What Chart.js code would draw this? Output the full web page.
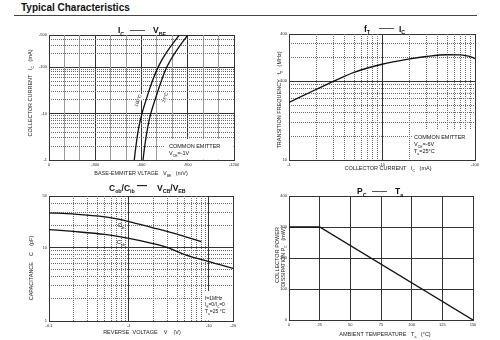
<!DOCTYPE html>
<html>
<head>
<meta charset="utf-8">
<script src="https://cdn.jsdelivr.net/npm/chart.js@4.4.1/dist/chart.umd.min.js"></script>
<style>
  body { margin: 0; background: #fff; }
  #wrap { position: relative; width: 500px; height: 340px; overflow: hidden; font-family: "Liberation Sans", Arial, sans-serif; }
  #wrap canvas { position: absolute; left: 0; top: 0; }
  #head { position: absolute; left: 21px; top: 2px; font-weight: bold; font-size: 10px; color: #111; }
  #rule { position: absolute; left: 14px; top: 15px; width: 463px; border-top: 1.5px solid #444; }
</style>
</head>
<body>
<div id="wrap">
  <div id="head">Typical Characteristics</div>
  <div id="rule"></div>
  <canvas id="c1" width="500" height="340"></canvas>
  <canvas id="c2" width="500" height="340"></canvas>
  <canvas id="c3" width="500" height="340"></canvas>
  <canvas id="c4" width="500" height="340"></canvas>
</div>
<script>
// IC - VBE (magnitudes, the sheet prints them negative)
const icPoints = [1, 2, 5, 10, 20, 50, 100, 200, 500];
const vbeHot = [553, 564, 582, 603, 630, 670, 707, 758, 845];
const vbe25 = [610, 621, 640, 660, 688, 728, 763, 815, 900];
const vbeTicks = [0, 300, 600, 900, 1200];
const icTicks = [1, 10, 100, 500];

// fT - IC
const icFt = [1, 2, 3, 5, 10, 20, 30, 50, 70, 85, 100];
const ftVals = [54, 80, 100, 130, 165, 193, 207, 218, 217, 209, 195];
const icFtTicks = [1, 10, 100];
const ftTicks = [10, 100, 400];

// Cib / Cob - reverse voltage
const vCib = [0.1, 0.2, 0.5, 1, 2, 3, 5, 8];
const cibVals = [29.5, 28.5, 26, 22.5, 18.5, 16.5, 14, 12];
const vCob = [0.1, 0.2, 0.5, 1, 2, 3, 5, 10, 20];
const cobVals = [17.5, 16.5, 15, 13.3, 11.3, 10, 8, 6.4, 5.2];
const vTicks = [0.1, 1, 10, 20];
const capTicks = [1, 10, 50];

// PC - Ta
const taVals = [0, 25, 150];
const pcVals = [300, 300, 0];
const taTicks = [0, 25, 50, 75, 100, 125, 150];
const pcTicks = [0, 100, 200, 300, 400];

const FONT = '"Liberation Sans", Arial, sans-serif';
const DARK = '#333';
const DOT = '#6a6a6a';

// minor log grid positions (2..9 of each decade) inside a range
function logMinors(min, max) {
  const out = [];
  for (let e = Math.floor(Math.log10(min)); e <= Math.ceil(Math.log10(max)); e++) {
    for (let d = 2; d <= 9; d++) {
      const v = +(d * Math.pow(10, e)).toPrecision(3);
      if (v > min && v < max) out.push(v);
    }
  }
  return out;
}

function majorAxis(type, min, max, vals, fmt, axis, size) {
  return {
    type, min, max, position: axis === 'x' ? 'bottom' : 'left',
    afterBuildTicks: s => { s.ticks = vals.map(v => ({ value: v })); },
    afterFit: s => { if (axis === 'x') s.height = size; else s.width = size; },
    ticks: { autoSkip: false, maxRotation: 0, padding: 2, color: '#222', font: { family: FONT, size: 4 }, callback: fmt },
    grid: { color: DARK, lineWidth: 1, drawTicks: false },
    border: { display: true, color: DARK, width: 1 }
  };
}

function minorAxis(type, min, max, vals, axis, color, dash) {
  const sc = {
    type, min, max, position: axis === 'x' ? 'bottom' : 'left',
    afterFit: s => { if (axis === 'x') s.height = 0; else s.width = 0; },
    ticks: { display: false },
    grid: { color, lineWidth: 1, drawTicks: false },
    border: { display: false, dash: dash || [] }
  };
  if (Array.isArray(vals)) sc.afterBuildTicks = s => { s.ticks = vals.map(v => ({ value: v })); };
  else sc.ticks.stepSize = vals;
  return sc;
}

// text with subscripts: parts are strings, or [text] for a subscript
function rich(ctx, parts, x, y, size, o = {}) {
  const b = o.bold ? 'bold ' : '';
  const sub = size * 0.62;
  const font = s => b + s + 'px ' + FONT;
  let w = 0;
  const segs = parts.map(p => {
    const isSub = Array.isArray(p);
    const t = isSub ? p[0] : p;
    ctx.font = font(isSub ? sub : size);
    const sw = ctx.measureText(t).width;
    w += sw;
    return { t, isSub, sw };
  });
  ctx.save();
  ctx.translate(x, y);
  if (o.rot) ctx.rotate(o.rot);
  let cx = o.align === 'center' ? -w / 2 : 0;
  if (o.bg) { ctx.fillStyle = '#fff'; ctx.fillRect(cx - 1, -size * 0.85, w + 2, size * 1.2); }
  ctx.fillStyle = o.color || '#111';
  ctx.textBaseline = 'alphabetic';
  segs.forEach(s => {
    ctx.font = font(s.isSub ? sub : size);
    ctx.fillText(s.t, cx, s.isSub ? size * 0.3 : 0);
    cx += s.sw;
  });
  ctx.restore();
}

function whiteBox(ctx, x0, y0, x1, y1) {
  ctx.fillStyle = '#fff';
  ctx.fillRect(x0, y0, x1 - x0, y1 - y0);
}

function makeChart(id, datasets, scales, padding, draw) {
  return new Chart(document.getElementById(id), {
    type: 'line',
    data: { datasets },
    options: {
      responsive: false,
      animation: false,
      events: [],
      layout: { padding },
      plugins: { legend: { display: false }, tooltip: { enabled: false } },
      scales
    },
    plugins: [{ id: 'txt' + id, afterDraw: c => draw(c.ctx) }]
  });
}

function curve(xs, ys, extra) {
  return Object.assign({
    data: xs.map((x, i) => ({ x, y: ys[i] })),
    borderColor: '#111', borderWidth: 1.3, pointRadius: 0,
    fill: false, cubicInterpolationMode: 'monotone'
  }, extra || {});
}

const neg = v => (v === 0 ? '0' : '-' + v);
const pos = v => '' + v;

// 1: IC - VBE
makeChart('c1', [
  curve(vbeHot, icPoints, { tension: 0.4, cubicInterpolationMode: 'default' }),
  curve(vbe25, icPoints, { tension: 0.4, cubicInterpolationMode: 'default' })
], {
  x: majorAxis('linear', 0, 1200, vbeTicks, neg, 'x', 10),
  y: majorAxis('logarithmic', 1, 500, icTicks, neg, 'y', 14),
  x2: minorAxis('linear', 0, 1200, 100, 'x', c => (c.tick && c.tick.value % 300 ? '#9a9a9a' : 'rgba(0,0,0,0)')),
  y2: minorAxis('logarithmic', 1, 500, logMinors(1, 500), 'y', DOT, [1, 1])
}, { left: 35, right: 266, top: 35, bottom: 170 }, ctx => {
  rich(ctx, ['I', ['C']], 118, 33, 8.5, { bold: true });
  rich(ctx, ['——'], 130, 31.5, 7.5, { bold: true });
  rich(ctx, ['V', ['BE']], 153, 33, 8.5, { bold: true });
  rich(ctx, ['BASE-EMMITER VLTAGE   V', ['BE'], '   (mV)'], 141, 175, 5.5, { align: 'center', color: '#222' });
  rich(ctx, ['COLLECTOR CURRENT   I', ['C'], '   (mA)'], 32, 93, 5.5, { align: 'center', rot: -Math.PI / 2, color: '#222' });
  whiteBox(ctx, 165, 139, 233.5, 159.5);
  rich(ctx, ['COMMON EMITTER'], 169, 148, 5.5);
  rich(ctx, ['V', ['CE'], '=-1V'], 169, 155, 5.5);
  rich(ctx, ['100°C'], 139.5, 101, 4.5, { align: 'center', rot: -1.22, bg: true });
  rich(ctx, ['25°C'], 166.5, 98, 4.5, { align: 'center', rot: -1.22, bg: true });
});

// 2: fT - IC
makeChart('c2', [curve(icFt, ftVals)], {
  x: majorAxis('logarithmic', 1, 100, icFtTicks, v => '-' + v, 'x', 10),
  y: majorAxis('logarithmic', 10, 400, ftTicks, pos, 'y', 14),
  x2: minorAxis('logarithmic', 1, 100, logMinors(1, 100), 'x', DOT, [1, 1]),
  y2: minorAxis('logarithmic', 10, 400, logMinors(10, 400), 'y', DOT, [1, 1])
}, { left: 275, right: 25, top: 34, bottom: 170 }, ctx => {
  rich(ctx, ['f', ['T']], 364, 31.5, 8.5, { bold: true });
  rich(ctx, ['——'], 379, 30, 7.5, { bold: true });
  rich(ctx, ['I', ['C']], 399, 31.5, 8.5, { bold: true });
  rich(ctx, ['COLLECTOR CURRENT   I', ['C'], '   (mA)'], 388, 170, 5.5, { align: 'center', color: '#222' });
  rich(ctx, ['TRANSITION FREQUENCY   f', ['T'], '   (MHz)'], 281, 100, 5.5, { align: 'center', rot: -Math.PI / 2, color: '#222' });
  whiteBox(ctx, 412, 129, 474.5, 159.5);
  rich(ctx, ['COMMON EMITTER'], 414, 139, 5.5);
  rich(ctx, ['V', ['CE'], '=-6V'], 414, 146, 5.5);
  rich(ctx, ['T', ['a'], '=25°C'], 414, 153, 5.5);
});

// 3: Cib/Cob - V
makeChart('c3', [curve(vCib, cibVals), curve(vCob, cobVals)], {
  x: majorAxis('logarithmic', 0.1, 20, vTicks, v => '-' + v, 'x', 10),
  y: majorAxis('logarithmic', 1, 50, capTicks, pos, 'y', 14),
  x2: minorAxis('logarithmic', 0.1, 20, logMinors(0.1, 20), 'x', DOT, [1, 1]),
  y2: minorAxis('logarithmic', 1, 50, logMinors(1, 50), 'y', DOT, [1, 1])
}, { left: 35, right: 267, top: 196, bottom: 9 }, ctx => {
  rich(ctx, ['C', ['ob'], '/C', ['ib']], 109, 190.5, 8.5, { bold: true });
  rich(ctx, ['—'], 137, 189, 10, { bold: true });
  rich(ctx, ['V', ['CB'], '/V', ['EB']], 157, 190.5, 8.5, { bold: true });
  rich(ctx, ['REVERSE  VOLTAGE    V    (V)'], 142, 334, 5.5, { align: 'center', color: '#222' });
  rich(ctx, ['CAPACITANCE    C    (pF)'], 33, 268, 5.5, { align: 'center', rot: -Math.PI / 2, color: '#222' });
  rich(ctx, ['C', ['ib']], 121, 227, 5.5, { align: 'center' });
  rich(ctx, ['C', ['ob']], 121, 244, 5.5, { align: 'center' });
  whiteBox(ctx, 203, 291, 232.5, 320.5);
  rich(ctx, ['f=1MHz'], 205, 300, 5);
  rich(ctx, ['I', ['E'], '=0/I', ['C'], '=0'], 205, 306, 5);
  rich(ctx, ['T', ['a'], '=25 °C'], 205, 313, 5);
});

// 4: PC - Ta (straight derating line)
makeChart('c4', [curve(taVals, pcVals, { tension: 0, cubicInterpolationMode: 'default' })], {
  x: majorAxis('linear', 0, 150, taTicks, pos, 'x', 10),
  y: majorAxis('linear', 0, 400, pcTicks, pos, 'y', 14)
}, { left: 275, right: 27, top: 196, bottom: 10 }, ctx => {
  rich(ctx, ['P', ['C']], 357, 194, 8.5, { bold: true });
  rich(ctx, ['——'], 372, 192.5, 7.5, { bold: true });
  rich(ctx, ['T', ['a']], 395, 194, 8.5, { bold: true });
  rich(ctx, ['AMBIENT TEMPERATURE   T', ['a'], '   (°C)'], 385, 336, 5.5, { align: 'center', color: '#222' });
  rich(ctx, ['COLLECTOR POWER'], 279, 255, 5.5, { align: 'center', rot: -Math.PI / 2, color: '#222' });
  rich(ctx, ['DISSIPATION P', ['C'], '   (mW)'], 285, 257, 5.5, { align: 'center', rot: -Math.PI / 2, color: '#222' });
});
</script>
</body>
</html>
